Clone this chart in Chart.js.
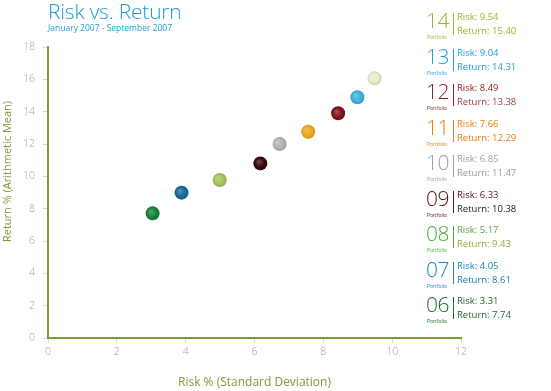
<!DOCTYPE html>
<html><head><meta charset="utf-8">
<script src="https://cdn.jsdelivr.net/npm/chart.js@4.4.1/dist/chart.umd.min.js"></script>
<style>
html,body{margin:0;padding:0;background:#fff;}
#wrap{position:relative;width:551px;height:391px;font-family:"Open Sans","Noto Sans",sans-serif;}
#c{position:absolute;left:0;top:0;}
.title{position:absolute;left:48px;top:-3px;font-size:21px;font-weight:300;color:#1e9ad6;white-space:nowrap;letter-spacing:-0.2px;}
.sub{position:absolute;left:48px;top:22px;font-size:8.5px;color:#1e9ad6;white-space:nowrap;}
.entry{position:absolute;left:426px;width:125px;height:34px;}
.num{position:absolute;left:0;top:-7px;font-size:21px;font-weight:300;line-height:28px;letter-spacing:-0.5px;}
.pf{position:absolute;left:1px;top:21px;font-size:5px;line-height:6px;}
.sep{position:absolute;left:27px;top:0;width:1px;height:22px;}
.rk{position:absolute;left:31px;top:-2px;font-size:9.5px;line-height:12px;white-space:nowrap;}
.rt{position:absolute;left:31px;top:12px;font-size:9.5px;line-height:12px;white-space:nowrap;}
</style></head>
<body><div id="wrap"><canvas id="c" width="551" height="391"></canvas>
<div class="title">Risk vs. Return</div>
<div class="sub">January 2007 - September 2007</div>
</div>
<script>
// Portfolio names
const portfolios = ["06","07","08","09","10","11","12","13","14"];
// Plotted positions
const riskValues   = [3.04, 3.88, 4.99, 6.17, 6.73, 7.56, 8.43, 8.99, 9.49];
const returnValues = [7.71, 8.99, 9.77, 10.80, 12.00, 12.76, 13.90, 14.89, 16.06];
// Values printed in the side legend
const legendRisk   = ["3.31","4.05","5.17","6.33","6.85","7.66","8.49","9.04","9.54"];
const legendReturn = ["7.74","8.61","9.43","10.38","11.47","12.29","13.38","14.31","15.40"];
// Axis ticks
const xTicks = [0,2,4,6,8,10,12];
const yTicks = [0,2,4,6,8,10,12,14,16,18];

const dotColors = ["#17803a","#146a9c","#a3c45a","#3a0508","#b4b4b4","#f2a51e","#7c1518","#3bb2da","#e4ecc6"];
const textColors = ["#1a6a2e","#1a86b6","#52a83e","#5a1016","#a0a0a0","#f07a12","#8c2020","#1e9fd8","#96b52a"];
const returnColors = ["#1a6a2e","#1a78a8","#8ab030","#222222","#9a9a9a","#f07a12","#9a3a3a","#1e9fd8","#96b52a"];

function shade(hex, amt){
  const n=parseInt(hex.slice(1),16);
  let r=(n>>16)&255,g=(n>>8)&255,b=n&255;
  const f=v=>Math.max(0,Math.min(255,Math.round(amt>0? v+(255-v)*amt : v*(1+amt))));
  return "rgb("+f(r)+","+f(g)+","+f(b)+")";
}

const points = riskValues.map((x,i)=>({x:x,y:returnValues[i]}));

const yTitlePlugin = {
  id:'yTitle',
  afterDraw(chart){
    const c=chart.ctx; const sy=chart.scales.y;
    const cy=sy.getPixelForValue(10.3);
    c.save();
    c.translate(8, cy);
    c.rotate(-Math.PI/2);
    c.fillStyle='#7d9a3a';
    c.font='11px "Open Sans"';
    c.textAlign='center'; c.textBaseline='middle';
    c.fillText('Return % (Arithmetic Mean)',0,0);
    c.restore();
  }
};

const chart = new Chart(document.getElementById('c'), {
  type:'scatter',
  data:{datasets:[{
    data:points,
    pointRadius:7,
    pointHoverRadius:7,
    borderWidth:0,
    backgroundColor:(ctx)=>{
      const i=ctx.dataIndex; const base=dotColors[i];
      const ch=ctx.chart; const sx=ch.scales.x, sy=ch.scales.y;
      if(!sx||!sy||!ch.chartArea||i===undefined) return base;
      const px=sx.getPixelForValue(riskValues[i]); const py=sy.getPixelForValue(returnValues[i]);
      if(!isFinite(px)||!isFinite(py)) return base;
      const g=ch.ctx.createRadialGradient(px-2,py-2,0.5,px,py,7);
      g.addColorStop(0,shade(base,0.25));
      g.addColorStop(0.65,base);
      g.addColorStop(1,shade(base,-0.12));
      return g;
    }
  }]},
  plugins:[yTitlePlugin],
  options:{
    responsive:false,animation:false,
    layout:{padding:{left:0,top:47,right:90,bottom:0}},
    plugins:{legend:{display:false},tooltip:{enabled:false},title:{display:false}},
    scales:{
      x:{type:'linear',min:0,max:12,
        afterBuildTicks:(s)=>{s.ticks=xTicks.map(v=>({value:v}));},
        afterFit:(s)=>{s.height=53;},
        grid:{drawOnChartArea:false,drawTicks:true,tickLength:5,color:'#d8d8d8'},
        border:{color:'#7b9a3a',width:2},
        ticks:{color:'#a0a0a0',padding:3,font:{family:'"Open Sans"',size:10.5,weight:300}},
        title:{display:true,text:'Risk % (Standard Deviation)',color:'#7d9a3a',padding:{top:0,bottom:1},font:{family:'"Open Sans"',size:12}}
      },
      y:{type:'linear',min:0,max:18,
        afterBuildTicks:(s)=>{s.ticks=yTicks.map(v=>({value:v}));},
        afterFit:(s)=>{s.width=48;},
        grid:{drawOnChartArea:false,drawTicks:true,tickLength:5,color:'#d8d8d8'},
        border:{color:'#7b9a3a',width:2},
        ticks:{color:'#a0a0a0',padding:8,font:{family:'"Open Sans"',size:10.5,weight:300}},
        title:{display:false}
      }
    }
  }
});

// Side legend (portfolio list, top: 14 down to 06)
const wrap=document.getElementById('wrap');
for(let k=0;k<portfolios.length;k++){
  const i=portfolios.length-1-k;
  const top=13+k*35.5;
  const e=document.createElement('div');
  e.className='entry'; e.style.top=top+'px';
  e.innerHTML='<div class="num" style="color:'+textColors[i]+'">'+portfolios[i]+'</div>'+
    '<div class="pf" style="color:'+textColors[i]+'">Portfolio</div>'+
    '<div class="sep" style="background:'+textColors[i]+'"></div>'+
    '<div class="rk" style="color:'+textColors[i]+'">Risk: '+legendRisk[i]+'</div>'+
    '<div class="rt" style="color:'+returnColors[i]+'">Return: '+legendReturn[i]+'</div>';
  wrap.appendChild(e);
}
</script>
</body></html>
